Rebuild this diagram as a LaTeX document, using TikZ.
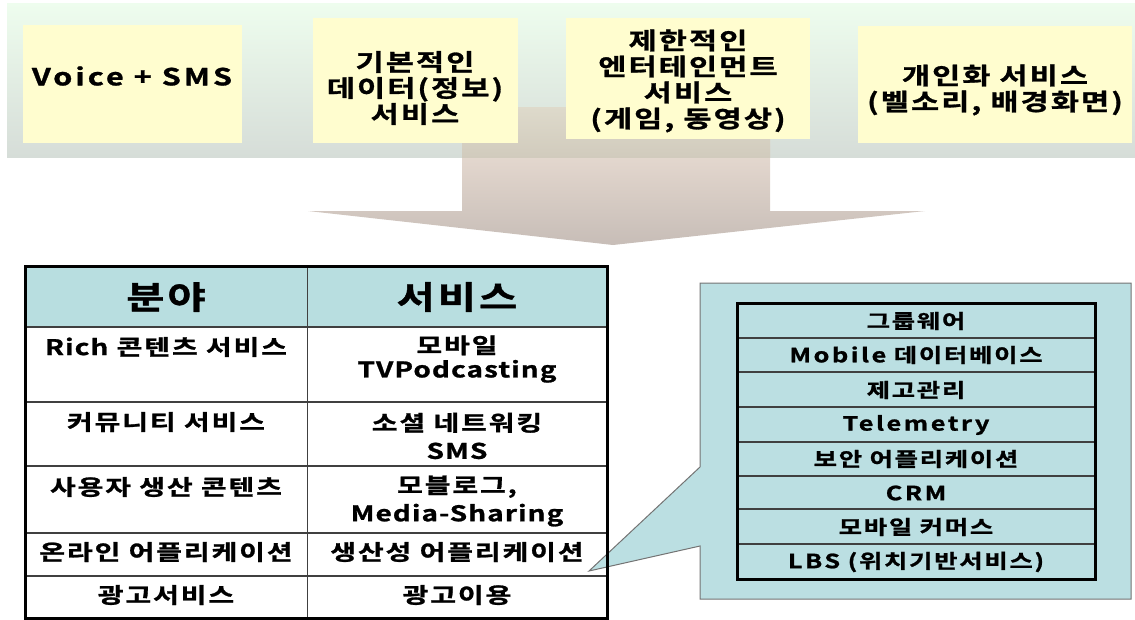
\documentclass[tikz,border=0pt]{standalone}
\usepackage{fontspec}
\setmainfont{Noto Sans CJK KR}[BoldFont={Noto Sans CJK KR Bold},BoldFeatures={FakeBold=1.2},FakeStretch=1.3,LetterSpace=9]
\newcommand\lat[1]{{\addfontfeature{LetterSpace=13}#1}}
\newcommand\latt[1]{{\addfontfeature{LetterSpace=5}#1}}
\definecolor{bandtop}{HTML}{EEFDEE}
\definecolor{bandbot}{HTML}{D6DDD8}
\definecolor{boxyellow}{HTML}{FFFDCF}
\definecolor{arrtop}{HTML}{F3E6DB}
\definecolor{arrbot}{HTML}{C7BDB7}
\definecolor{arrbandtop}{HTML}{DEDACB}
\definecolor{arrbandbot}{HTML}{D1CBBD}
\definecolor{hdrblue}{HTML}{B8DEE0}
\definecolor{callblue}{HTML}{BBDFE2}
\definecolor{thinline}{HTML}{404040}
\begin{document}
\begin{tikzpicture}[x=1pt,y=-1pt,
  ybox/.style={fill=boxyellow,draw=none},
  toptxt/.style={inner sep=0pt,align=center,font=\fontsize{23.5}{26}\selectfont\bfseries},
  hdr/.style={inner sep=0pt,font=\fontsize{32}{36}\selectfont\bfseries},
  cell/.style={inner sep=0pt,align=center,font=\fontsize{21.5}{26}\selectfont\bfseries},
  item/.style={inner sep=0pt,font=\fontsize{19.5}{22}\selectfont\bfseries},
  thin/.style={draw=thinline,line width=1.2pt},
  thick/.style={draw=black,line width=3pt},
]
\useasboundingbox (0,0) rectangle (1135,619);

% top band
\shade[top color=bandtop,bottom color=bandbot] (7,3) rectangle (1135,157);

% big arrow
\shade[top color=arrtop,bottom color=arrbot]
  (462,107) -- (770,107) -- (770,211) -- (925,211) -- (613,245) -- (308,211) -- (462,211) -- cycle;
\shade[top color=arrbandtop,bottom color=arrbandbot] (462,107) rectangle (770,157);

% yellow boxes
\node[ybox,anchor=north west,minimum width=219pt,minimum height=118pt] (b1) at (23,25) {};
\node[ybox,anchor=north west,minimum width=205pt,minimum height=125pt] (b2) at (313,18) {};
\node[ybox,anchor=north west,minimum width=244pt,minimum height=121pt] (b3) at (566,18) {};
\node[ybox,anchor=north west,minimum width=274pt,minimum height=117pt] (b4) at (858,26) {};

\node[toptxt] (t1) at (132,76) {\lat{Voice + SMS}};
\node[toptxt] (t2) at (415,88) {기본적인\\데이터(정보)\\서비스};
\node[toptxt] (t3) at (688,81) {제한적인\\엔터테인먼트\\서비스\\(게임, 동영상)};
\node[toptxt] (t4) at (995,90) {개인화 서비스\\(벨소리, 배경화면)};

% left table
\fill[hdrblue] (25.5,266) rectangle (607,327);
\draw[thin] (307.5,266) -- (307.5,618);
\draw[thin] (25.5,327) -- (607,327);
\draw[thin] (25.5,402) -- (607,402);
\draw[thin] (25.5,466) -- (607,466);
\draw[thin] (25.5,533) -- (607,533);
\draw[thin] (25.5,576) -- (607,576);

\node[hdr] (h1) at (166,297) {분야};
\node[hdr] (h2) at (457,297) {서비스};

\node[cell] (l1) at (166,347) {\latt{Rich} 콘텐츠 서비스};
\node[cell,font=\fontsize{21.5}{24}\selectfont\bfseries] (r1) at (457,359) {모바일\\\latt{TVPodcasting}};
\node[cell] (l2) at (166,422) {커뮤니티 서비스};
\node[cell,font=\fontsize{21.5}{28}\selectfont\bfseries] (r2) at (457,436) {소셜 네트워킹\\\latt{SMS}};
\node[cell] (l3) at (166,487) {사용자 생산 콘텐츠};
\node[cell,font=\fontsize{21.5}{28}\selectfont\bfseries] (r3) at (457,501) {모블로그,\\\latt{Media-Sharing}};
\node[cell] (l4) at (166,552) {온라인 어플리케이션};
\node[cell] (r4) at (457,552) {생산성 어플리케이션};
\node[cell] (l5) at (166,595) {광고서비스};
\node[cell] (r5) at (457,595) {광고이용};

% callout
\filldraw[fill=callblue,draw=gray!90!black,line width=1pt]
  (700,283) -- (1131,283) -- (1131,599) -- (700,599) -- (700,546) -- (589,571) -- (700,467) -- cycle;

% left table outer border (over the callout pointer)
\draw[thick] (25.5,618) -- (25.5,266) -- (607,266) -- (607,618) -- cycle;

% inner table of the callout
\draw[thin] (737,338) -- (1095,338);
\draw[thin] (737,372) -- (1095,372);
\draw[thin] (737,407) -- (1095,407);
\draw[thin] (737,442) -- (1095,442);
\draw[thin] (737,476) -- (1095,476);
\draw[thin] (737,509) -- (1095,509);
\draw[thin] (737,544) -- (1095,544);
\draw[thick] (737,303) rectangle (1095,579);

\node[item] (c1) at (916,321) {그룹웨어};
\node[item] (c2) at (916,355) {\lat{Mobile} 데이터베이스};
\node[item] (c3) at (916,390) {제고관리};
\node[item] (c4) at (916,425) {\lat{Telemetry}};
\node[item] (c5) at (916,459) {보안 어플리케이션};
\node[item] (c6) at (916,493) {\lat{CRM}};
\node[item] (c7) at (916,527) {모바일 커머스};
\node[item] (c8) at (916,562) {\lat{LBS} (위치기반서비스)};
\end{tikzpicture}
\end{document}
